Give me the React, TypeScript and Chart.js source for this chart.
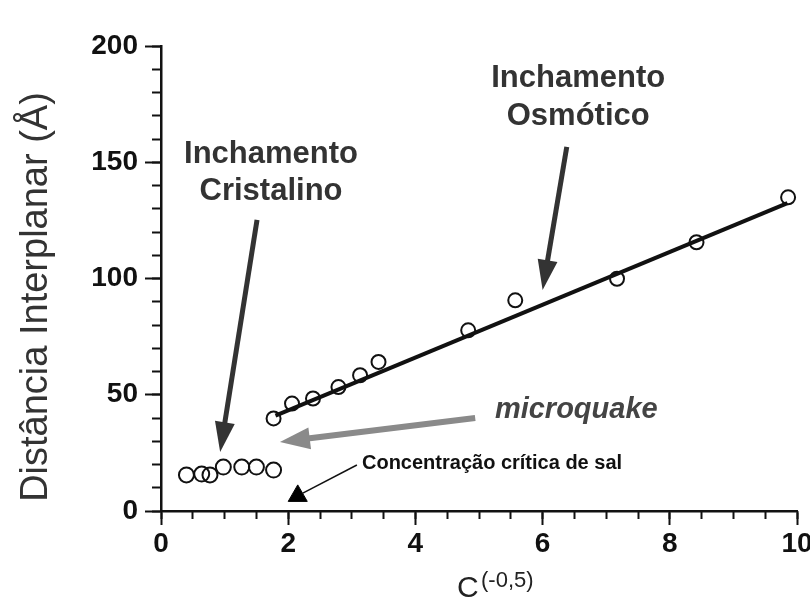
import { useEffect, useRef } from 'react';
import { Chart, registerables } from 'chart.js';

Chart.register(...registerables);

// crystalline swelling (open circles, low C^-0.5)
const crystalX = [0.4, 0.64, 0.77, 0.98, 1.27, 1.5, 1.77];
const crystalY = [15.5, 15.9, 15.5, 18.9, 18.9, 18.9, 17.6];

// osmotic swelling (open circles on the fitted line)
const osmoticX = [1.77, 2.06, 2.39, 2.79, 3.13, 3.42, 4.83, 5.57, 7.17, 8.42, 9.86];
const osmoticY = [39.8, 46.2, 48.4, 53.3, 58.4, 64.1, 77.7, 90.6, 99.9, 115.6, 134.9];

// linear fit through the osmotic regime
const fitX = [1.8, 9.85];
const fitY = [41, 132.4];

// critical salt concentration marker
const criticalX = [2.15];
const criticalY = [6.5];

const xTicks = { min: 0, max: 10, major: 2, minor: 0.5 };
const yTicks = { min: 0, max: 200, major: 50, minor: 10 };

const FONT = '"Liberation Sans", Arial, Helvetica, sans-serif';

function arrow(
  ctx: CanvasRenderingContext2D,
  x1: number, y1: number, x2: number, y2: number,
  color: string, width: number, headLen: number, headHalf: number,
) {
  const ang = Math.atan2(y2 - y1, x2 - x1);
  const c = Math.cos(ang);
  const s = Math.sin(ang);
  const bx = x2 - headLen * c;
  const by = y2 - headLen * s;
  ctx.save();
  ctx.strokeStyle = color;
  ctx.fillStyle = color;
  ctx.lineWidth = width;
  ctx.lineCap = 'butt';
  ctx.beginPath();
  ctx.moveTo(x1, y1);
  ctx.lineTo(bx + c * 2, by + s * 2);
  ctx.stroke();
  ctx.beginPath();
  ctx.moveTo(x2, y2);
  ctx.lineTo(bx - headHalf * s, by + headHalf * c);
  ctx.lineTo(bx + headHalf * s, by - headHalf * c);
  ctx.closePath();
  ctx.fill();
  ctx.restore();
}

const annotationPlugin = {
  id: 'annotations',
  afterDraw(chart: Chart) {
    const ctx = chart.ctx;
    const sx = chart.scales.x;
    const sy = chart.scales.y;
    const px = (v: number) => sx.getPixelForValue(v);
    const py = (v: number) => sy.getPixelForValue(v);

    ctx.save();
    ctx.textAlign = 'center';
    ctx.textBaseline = 'middle';

    // Inchamento Cristalino
    ctx.fillStyle = '#333';
    ctx.font = `bold 31px ${FONT}`;
    ctx.fillText('Inchamento', px(1.73), py(153.5));
    ctx.fillText('Cristalino', px(1.73), py(137.6));
    arrow(ctx, px(1.51), py(125.2), px(0.93), py(25.4), '#333', 5, 30, 10);

    // Inchamento Osmótico
    ctx.fillText('Inchamento', px(6.56), py(186.2));
    ctx.fillText('Osmótico', px(6.56), py(169.9));
    arrow(ctx, px(6.38), py(156.6), px(6.0), py(95.1), '#333', 5, 30, 10);

    // microquake
    ctx.textAlign = 'left';
    ctx.textBaseline = 'alphabetic';
    ctx.fillStyle = '#444';
    ctx.font = `italic bold 29px ${FONT}`;
    ctx.fillText('microquake', px(5.25), py(40));
    arrow(ctx, px(4.94), py(40), px(1.87), py(29.7), '#8a8a8a', 6, 30, 11);

    // Concentração crítica de sal
    ctx.textBaseline = 'middle';
    ctx.fillStyle = '#111';
    ctx.font = `bold 20px ${FONT}`;
    ctx.fillText('Concentração crítica de sal', px(3.16), py(20.6));
    ctx.strokeStyle = '#111';
    ctx.lineWidth = 1.5;
    ctx.beginPath();
    ctx.moveTo(px(3.08), py(19.8));
    ctx.lineTo(px(2.23), py(7.7));
    ctx.stroke();

    // axis titles
    ctx.fillStyle = '#333';
    ctx.font = `38px ${FONT}`;
    ctx.textAlign = 'center';
    ctx.textBaseline = 'alphabetic';
    ctx.save();
    ctx.translate(47, 297);
    ctx.rotate(-Math.PI / 2);
    ctx.fillText('Distância Interplanar (Å)', 0, 0);
    ctx.restore();

    ctx.fillStyle = '#222';
    ctx.textAlign = 'left';
    ctx.font = `30px ${FONT}`;
    ctx.fillText('C', 457, 597);
    ctx.font = `22px ${FONT}`;
    ctx.fillText('(-0,5)', 481, 587);
    ctx.restore();
  },
};

const toPoints = (xs: number[], ys: number[]) => xs.map((x, i) => ({ x, y: ys[i] }));

export default function App() {
  const canvasRef = useRef<HTMLCanvasElement>(null);
  const chartRef = useRef<Chart | null>(null);

  useEffect(() => {
    if (!canvasRef.current) return;
    chartRef.current?.destroy();

    const tickFont = { family: FONT, size: 28, weight: 'bold' as const };
    const tickGrid = (len: number) => ({
      drawOnChartArea: false,
      drawTicks: true,
      tickLength: len,
      tickWidth: 2,
      tickColor: '#111',
    });

    chartRef.current = new Chart(canvasRef.current, {
      type: 'scatter',
      data: {
        datasets: [
          {
            label: 'Ajuste',
            data: toPoints(fitX, fitY),
            showLine: true,
            borderColor: '#111',
            borderWidth: 4,
            pointRadius: 0,
          },
          {
            label: 'Inchamento cristalino',
            data: toPoints(crystalX, crystalY),
            pointRadius: 7.5,
            pointBorderWidth: 2,
            borderColor: '#111',
            backgroundColor: 'rgba(255,255,255,0)',
          },
          {
            label: 'Inchamento osmótico',
            data: toPoints(osmoticX, osmoticY),
            pointRadius: 7,
            pointBorderWidth: 2,
            borderColor: '#111',
            backgroundColor: 'rgba(255,255,255,0)',
          },
          {
            label: 'Concentração crítica',
            data: toPoints(criticalX, criticalY),
            pointStyle: 'triangle',
            pointRadius: 11,
            borderColor: '#000',
            backgroundColor: '#000',
            pointBorderWidth: 1,
          },
        ],
      },
      options: {
        responsive: true,
        maintainAspectRatio: false,
        animation: false,
        layout: { padding: { top: 46, right: 13, left: 0, bottom: 0 } },
        plugins: {
          legend: { display: false },
          tooltip: { enabled: false },
        },
        scales: {
          x: {
            type: 'linear',
            position: 'bottom',
            weight: 1,
            min: xTicks.min,
            max: xTicks.max,
            ticks: { stepSize: xTicks.major, font: tickFont, color: '#111', padding: 2 },
            grid: tickGrid(14),
            border: { display: true, color: '#111', width: 2.5 },
            afterFit: (s: any) => {
              s.height = 91;
              s.paddingRight = 0;
              s.paddingLeft = 0;
            },
          },
          xMinor: {
            type: 'linear',
            position: 'bottom',
            weight: 0,
            min: xTicks.min,
            max: xTicks.max,
            ticks: { stepSize: xTicks.minor, display: false },
            grid: tickGrid(8),
            border: { display: false },
            afterFit: (s: any) => {
              s.height = 0;
              s.paddingRight = 0;
              s.paddingLeft = 0;
            },
          },
          y: {
            type: 'linear',
            position: 'left',
            weight: 1,
            min: yTicks.min,
            max: yTicks.max,
            ticks: { stepSize: yTicks.major, font: tickFont, color: '#111', padding: 7 },
            grid: tickGrid(16),
            border: { display: true, color: '#111', width: 2.5 },
            afterFit: (s: any) => {
              s.width = 161;
            },
          },
          yMinor: {
            type: 'linear',
            position: 'left',
            weight: 0,
            min: yTicks.min,
            max: yTicks.max,
            ticks: { stepSize: yTicks.minor, display: false },
            grid: tickGrid(9),
            border: { display: false },
            afterFit: (s: any) => {
              s.width = 0;
            },
          },
        },
      },
      plugins: [annotationPlugin],
    });

    return () => chartRef.current?.destroy();
  }, []);

  return (
    <div style={{ position: 'absolute', left: 0, top: 0, width: 810, height: 602, background: '#fff' }}>
      <canvas ref={canvasRef} />
    </div>
  );
}
